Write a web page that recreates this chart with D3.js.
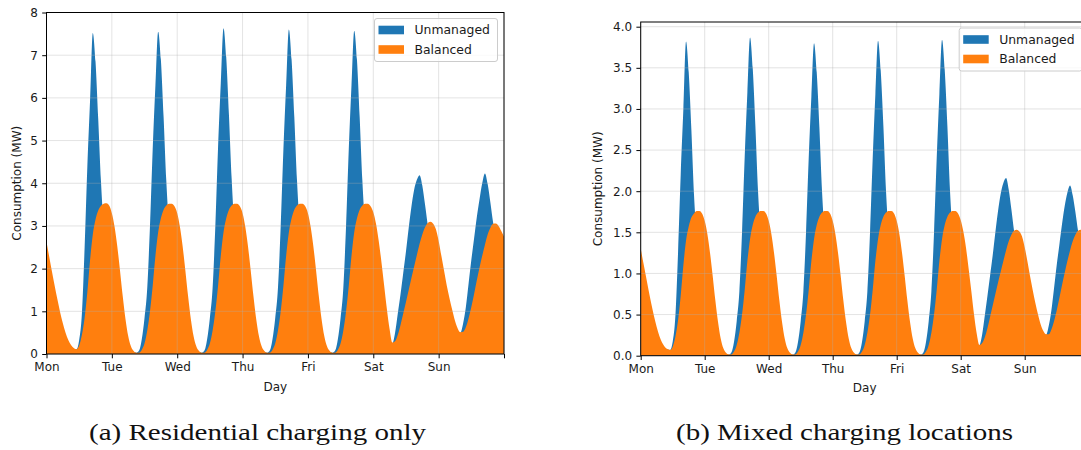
<!DOCTYPE html>
<html>
<head>
<meta charset="utf-8">
<script src="https://cdn.jsdelivr.net/npm/d3@7"></script>
<style>
  body { margin: 0; background: #fff; }
  svg text { font-family: "DejaVu Sans", sans-serif; fill: #1a1a1a; }
  svg text.caption { font-family: "Liberation Serif", serif; fill: #111; }
</style>
</head>
<body>
<svg id="fig" width="1081" height="450"></svg>
<script>
"use strict";

const days = ["Mon", "Tue", "Wed", "Thu", "Fri", "Sat", "Sun"];
const seriesNames = ["Unmanaged", "Balanced"];

// hourly consumption in MW, one row per day from 00:00 (Sunday also carries the 24:00 value)
const resUnmanaged = [
  [2.2, 1.8, 1.45, 1.15, 0.9, 0.68, 0.5, 0.35, 0.24, 0.16, 0.12, 0.11, 0.33, 0.95, 2.5, 4.4, 5.95, 7.52, 6.85, 5.5, 4.05, 3.0, 2.35, 1.8],
  [1.3, 0.95, 0.68, 0.48, 0.33, 0.22, 0.14, 0.09, 0.05, 0.03, 0.08, 0.35, 0.85, 1.55, 3.0, 4.8, 6.3, 7.55, 6.9, 5.55, 4.05, 3.0, 2.35, 1.8],
  [1.3, 0.95, 0.68, 0.48, 0.33, 0.22, 0.14, 0.09, 0.05, 0.03, 0.08, 0.35, 0.85, 1.55, 3.0, 4.85, 6.35, 7.63, 6.95, 5.6, 4.1, 3.0, 2.35, 1.8],
  [1.3, 0.95, 0.68, 0.48, 0.33, 0.22, 0.14, 0.09, 0.05, 0.03, 0.08, 0.35, 0.85, 1.55, 3.0, 4.8, 6.3, 7.6, 6.9, 5.55, 4.05, 3.0, 2.35, 1.8],
  [1.3, 0.95, 0.68, 0.48, 0.33, 0.22, 0.14, 0.09, 0.05, 0.03, 0.08, 0.35, 0.85, 1.55, 3.0, 4.8, 6.3, 7.57, 6.9, 5.55, 4.05, 3.0, 2.35, 1.8],
  [1.3, 0.95, 0.7, 0.5, 0.38, 0.3, 0.26, 0.25, 0.5, 0.95, 1.4, 1.9, 2.4, 2.95, 3.45, 3.85, 4.08, 4.19, 3.95, 3.5, 3.02, 2.6, 2.15, 1.75],
  [1.4, 1.1, 0.88, 0.72, 0.62, 0.56, 0.52, 0.5, 0.5, 0.72, 1.1, 1.65, 2.2, 2.7, 3.2, 3.62, 4.0, 4.23, 3.98, 3.55, 3.08, 2.7, 2.3, 1.92, 1.55]
];
const resBalanced = [
  [2.63, 2.28, 1.93, 1.6, 1.28, 0.98, 0.72, 0.5, 0.33, 0.21, 0.14, 0.11, 0.2, 0.45, 0.85, 1.45, 2.2, 2.8, 3.15, 3.36, 3.47, 3.52, 3.53, 3.48],
  [3.3, 2.98, 2.52, 1.95, 1.35, 0.82, 0.42, 0.18, 0.07, 0.03, 0.03, 0.1, 0.25, 0.55, 1.0, 1.6, 2.3, 2.85, 3.18, 3.38, 3.48, 3.52, 3.52, 3.46],
  [3.3, 2.98, 2.52, 1.95, 1.35, 0.82, 0.42, 0.18, 0.07, 0.03, 0.03, 0.1, 0.25, 0.55, 1.0, 1.6, 2.3, 2.85, 3.18, 3.38, 3.48, 3.52, 3.52, 3.46],
  [3.3, 2.98, 2.52, 1.95, 1.35, 0.82, 0.42, 0.18, 0.07, 0.03, 0.03, 0.1, 0.25, 0.55, 1.0, 1.6, 2.3, 2.85, 3.18, 3.38, 3.48, 3.52, 3.52, 3.46],
  [3.3, 2.98, 2.52, 1.95, 1.35, 0.82, 0.42, 0.18, 0.07, 0.03, 0.03, 0.1, 0.25, 0.55, 1.0, 1.6, 2.3, 2.85, 3.18, 3.38, 3.48, 3.52, 3.52, 3.46],
  [3.32, 3.05, 2.65, 2.15, 1.6, 1.05, 0.58, 0.27, 0.3, 0.45, 0.68, 0.95, 1.22, 1.5, 1.78, 2.05, 2.32, 2.58, 2.8, 2.97, 3.07, 3.1, 3.05, 2.92],
  [2.65, 2.3, 1.95, 1.6, 1.3, 1.03, 0.78, 0.6, 0.51, 0.52, 0.63, 0.84, 1.1, 1.4, 1.72, 2.02, 2.3, 2.56, 2.8, 2.96, 3.05, 3.06, 3.0, 2.88, 2.75]
];
const mixUnmanaged = [
  [1.1, 0.9, 0.72, 0.57, 0.45, 0.34, 0.25, 0.17, 0.12, 0.09, 0.075, 0.07, 0.17, 0.48, 1.25, 2.2, 3.0, 3.82, 3.45, 2.75, 1.95, 1.45, 1.15, 0.88],
  [0.65, 0.47, 0.34, 0.24, 0.16, 0.11, 0.07, 0.045, 0.025, 0.015, 0.04, 0.17, 0.42, 0.78, 1.5, 2.42, 3.2, 3.87, 3.5, 2.8, 2.0, 1.48, 1.16, 0.88],
  [0.65, 0.47, 0.34, 0.24, 0.16, 0.11, 0.07, 0.045, 0.025, 0.015, 0.04, 0.17, 0.42, 0.78, 1.5, 2.4, 3.15, 3.8, 3.45, 2.78, 2.0, 1.48, 1.16, 0.88],
  [0.65, 0.47, 0.34, 0.24, 0.16, 0.11, 0.07, 0.045, 0.025, 0.015, 0.04, 0.17, 0.42, 0.78, 1.5, 2.4, 3.18, 3.83, 3.47, 2.8, 2.0, 1.48, 1.16, 0.88],
  [0.65, 0.47, 0.34, 0.24, 0.16, 0.11, 0.07, 0.045, 0.025, 0.015, 0.04, 0.17, 0.42, 0.78, 1.5, 2.4, 3.18, 3.84, 3.48, 2.8, 2.0, 1.48, 1.16, 0.88],
  [0.65, 0.47, 0.35, 0.26, 0.2, 0.16, 0.14, 0.13, 0.25, 0.48, 0.72, 0.97, 1.22, 1.5, 1.76, 1.97, 2.1, 2.16, 2.02, 1.78, 1.52, 1.3, 1.08, 0.88],
  [0.7, 0.55, 0.44, 0.36, 0.31, 0.28, 0.26, 0.25, 0.25, 0.36, 0.55, 0.82, 1.1, 1.35, 1.6, 1.82, 1.98, 2.07, 1.95, 1.75, 1.52, 1.35, 1.15, 0.97, 0.8]
];
const mixBalanced = [
  [1.3, 1.13, 0.96, 0.79, 0.63, 0.48, 0.35, 0.24, 0.16, 0.11, 0.08, 0.07, 0.11, 0.23, 0.43, 0.73, 1.1, 1.4, 1.57, 1.68, 1.73, 1.76, 1.76, 1.73],
  [1.64, 1.48, 1.25, 0.97, 0.67, 0.41, 0.21, 0.09, 0.035, 0.015, 0.015, 0.05, 0.13, 0.28, 0.5, 0.8, 1.15, 1.42, 1.59, 1.69, 1.74, 1.76, 1.76, 1.73],
  [1.64, 1.48, 1.25, 0.97, 0.67, 0.41, 0.21, 0.09, 0.035, 0.015, 0.015, 0.05, 0.13, 0.28, 0.5, 0.8, 1.15, 1.42, 1.59, 1.69, 1.74, 1.76, 1.76, 1.73],
  [1.64, 1.48, 1.25, 0.97, 0.67, 0.41, 0.21, 0.09, 0.035, 0.015, 0.015, 0.05, 0.13, 0.28, 0.5, 0.8, 1.15, 1.42, 1.59, 1.69, 1.74, 1.76, 1.76, 1.73],
  [1.64, 1.48, 1.25, 0.97, 0.67, 0.41, 0.21, 0.09, 0.035, 0.015, 0.015, 0.05, 0.13, 0.28, 0.5, 0.8, 1.15, 1.42, 1.59, 1.69, 1.74, 1.76, 1.76, 1.73],
  [1.65, 1.51, 1.31, 1.05, 0.78, 0.5, 0.27, 0.13, 0.15, 0.22, 0.33, 0.47, 0.61, 0.75, 0.89, 1.02, 1.15, 1.28, 1.39, 1.47, 1.52, 1.53, 1.51, 1.45],
  [1.32, 1.15, 0.97, 0.8, 0.64, 0.5, 0.38, 0.3, 0.26, 0.26, 0.32, 0.42, 0.55, 0.7, 0.86, 1.01, 1.15, 1.28, 1.39, 1.47, 1.52, 1.53, 1.5, 1.44, 1.37]
];

const resTicks = [0, 1, 2, 3, 4, 5, 6, 7, 8];
const mixTicks = [0, 0.5, 1, 1.5, 2, 2.5, 3, 3.5, 4];
const captions = ["(a) Residential charging only", "(b) Mixed charging locations"];

const colors = ["#1f77b4", "#ff7f0e"];
const tick_len = 4.3;

const _render_panel = function (p) {

  const svg = d3.select("#fig");
  const g = svg.append("g").attr("id", p.id);

  const hours = days.length * 24;
  const x_scale = d3.scaleLinear().domain([0, hours]).range([p.left, p.right]);
  const y_scale = d3.scaleLinear().domain([0, p.ymax]).range([p.bottom, p.top]);

  g.append("clipPath").attr("id", "clip-" + p.id)
    .append("rect")
    .attr("x", p.left).attr("y", p.top)
    .attr("width", p.right - p.left).attr("height", p.bottom - p.top);

  const area = d3.area()
    .x((d, i) => x_scale(i))
    .y0(y_scale(0))
    .y1(d => y_scale(d))
    .curve(d3.curveMonotoneX);

  const plot = g.append("g").attr("clip-path", "url(#clip-" + p.id + ")");

  // unmanaged first, balanced painted over it
  [p.unmanaged, p.balanced].forEach((rows, k) => {
    plot.append("path")
      .datum(rows.flat())
      .attr("fill", colors[k])
      .attr("d", area);
  });

  // grid sits on top of the fills
  const day_ticks = d3.range(0, hours + 1, 24);
  const grid = g.append("g").attr("stroke", "#b0b0b0").attr("stroke-opacity", 0.35).attr("stroke-width", 1);
  grid.selectAll("line.v").data(day_ticks).enter().append("line")
    .attr("x1", d => x_scale(d)).attr("x2", d => x_scale(d))
    .attr("y1", p.top).attr("y2", p.bottom);
  grid.selectAll("line.h").data(p.ticks).enter().append("line")
    .attr("x1", p.left).attr("x2", p.right)
    .attr("y1", d => y_scale(d)).attr("y2", d => y_scale(d));

  // axes
  const ax_left = g.append("g")
    .attr("transform", "translate(" + p.left + ",0)")
    .call(d3.axisLeft(y_scale).tickValues(p.ticks).tickFormat(p.fmt).tickSize(tick_len).tickPadding(tick_len));
  const ax_bott = g.append("g")
    .attr("transform", "translate(0," + p.bottom + ")")
    .call(d3.axisBottom(x_scale).tickValues(day_ticks).tickFormat(d => days[d / 24] || "").tickSize(tick_len).tickPadding(tick_len));

  [ax_left, ax_bott].forEach(ax => {
    ax.select(".domain").remove();
    ax.selectAll("line").attr("stroke", "#000").attr("stroke-width", 1);
    ax.selectAll("text").attr("font-size", 12).attr("font-family", "DejaVu Sans").attr("fill", "#1a1a1a");
  });

  g.append("rect")
    .attr("x", p.left).attr("y", p.top)
    .attr("width", p.right - p.left).attr("height", p.bottom - p.top)
    .attr("fill", "none").attr("stroke", "#000").attr("stroke-width", 1);

  g.append("text")
    .attr("x", (p.left + p.right) / 2).attr("y", p.bottom + 36.5)
    .attr("text-anchor", "middle").attr("font-size", 12)
    .text("Day");

  g.append("text")
    .attr("transform", "translate(" + p.ylab_x + "," + (p.top + p.bottom) / 2 + ") rotate(-90)")
    .attr("text-anchor", "middle").attr("font-size", 12)
    .text("Consumption (MW)");

  // legend, upper right
  const lw = 123, lh = 43;
  const lx = p.right - 6.5 - lw, ly = p.top + 6;
  const leg = g.append("g").attr("transform", "translate(" + lx + "," + ly + ")");
  leg.append("rect")
    .attr("width", lw).attr("height", lh).attr("rx", 2.5)
    .attr("fill", "#fff").attr("fill-opacity", 0.8)
    .attr("stroke", "#cccccc").attr("stroke-width", 1);
  seriesNames.forEach((name, k) => {
    const cy = 11.5 + k * 19.5;
    leg.append("rect")
      .attr("x", 4).attr("y", cy - 4.3).attr("width", 25.5).attr("height", 8.6)
      .attr("fill", colors[k]);
    leg.append("text")
      .attr("x", 40).attr("y", cy).attr("dy", "0.36em")
      .attr("font-size", 12.4)
      .text(name);
  });

  svg.append("text")
    .attr("class", "caption")
    .attr("x", p.cap_x).attr("y", 440)
    .attr("text-anchor", "middle")
    .attr("font-size", 23)
    .attr("textLength", 337).attr("lengthAdjust", "spacingAndGlyphs")
    .text(p.caption);
};

_render_panel({
  id: "res", unmanaged: resUnmanaged, balanced: resBalanced,
  left: 46.5, right: 504, top: 12.5, bottom: 354,
  ymax: 8, ticks: resTicks, fmt: d3.format("d"),
  ylab_x: 21, cap_x: 257.5, caption: captions[0]
});

_render_panel({
  id: "mix", unmanaged: mixUnmanaged, balanced: mixBalanced,
  left: 640.7, right: 1088.7, top: 22, bottom: 355.7,
  ymax: 4.057, ticks: mixTicks, fmt: d3.format(".1f"),
  ylab_x: 602, cap_x: 844.5, caption: captions[1]
});
</script>
</body>
</html>
